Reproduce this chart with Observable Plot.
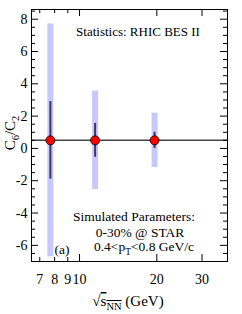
<!DOCTYPE html>
<html><head><meta charset="utf-8">
<script src="https://cdn.jsdelivr.net/npm/d3@7"></script>
<script src="https://cdn.jsdelivr.net/npm/@observablehq/plot@0.6"></script>
<style>html,body{margin:0;padding:0;background:#fff}</style>
</head><body><div id="chart"></div>
<script>
// ---- data ----
const energies = [7.7, 11.5, 19.6];          // sqrt(s_NN) in GeV
const ratio = [0.5, 0.5, 0.5];               // C6/C2
const errStat = [2.4, 1.05, 0.5];            // dark error bars
const errProj = [7.2, 3.05, 1.68];           // light (projected) error bars
const refLine = [0.5];
const xTickValues = [7, 8, 9, 10, 20, 30];
const xMajorTicks = [10, 20, 30];
const xMinorTicks = [7, 8, 9];
const yTickValues = [-6, -4, -2, 0, 2, 4, 6, 8];
const yMinorTicks = [-6.5, -5.5, -5, -4.5, -3.5, -3, -2.5, -1.5, -1, -0.5, 0.5, 1, 1.5, 2.5, 3, 3.5, 4.5, 5, 5.5, 6.5, 7, 7.5, 8.5];
const statText = "Statistics: RHIC BES II";
const paramLines = ["Simulated Parameters:", "0-30% @ STAR"];
const panelLabel = "(a)";

const rows = energies.map((e, i) => ({e, r: ratio[i], s: errStat[i], p: errProj[i]}));

const W = 242, H = 314, mL = 31, mR = 15, mT = 9, mB = 53;
const pw = W - mL - mR, ph = H - mT - mB;
const majLen = 7, minLen = 4;

const chart = Plot.plot({
  width: W, height: H,
  marginLeft: mL, marginRight: mR, marginTop: mT, marginBottom: mB,
  style: {fontFamily: "'Liberation Serif', 'DejaVu Serif', serif", fontSize: "14px", background: "white", color: "black"},
  x: {type: "log", domain: [6.5, 37.7]},
  y: {domain: [-7, 8.6]},
  marks: [
    Plot.ruleX(rows, {x: "e", y1: d => d.r - d.p, y2: d => d.r + d.p, stroke: "#c8c8ff", strokeWidth: 6}),
    Plot.ruleY(refLine, {y: d => d, stroke: "#444", strokeWidth: 1.5}),
    Plot.ruleX(rows, {x: "e", y1: d => d.r - d.s, y2: d => d.r + d.s, stroke: "#3a3a5e", strokeWidth: 2}),
    Plot.dot(rows, {x: "e", y: "r", r: 4.5, fill: "#ff0000", stroke: "black", strokeWidth: 0.8}),
    Plot.frame({stroke: "black", strokeWidth: 1}),
    // inward ticks: left / right
    Plot.tickY(yTickValues, {y: d => d, insetRight: pw - majLen, stroke: "black"}),
    Plot.tickY(yMinorTicks, {y: d => d, insetRight: pw - minLen, stroke: "black"}),
    Plot.tickY(yTickValues, {y: d => d, insetLeft: pw - majLen, stroke: "black"}),
    Plot.tickY(yMinorTicks, {y: d => d, insetLeft: pw - minLen, stroke: "black"}),
    // inward ticks: bottom / top
    Plot.tickX(xMajorTicks, {x: d => d, insetTop: ph - majLen, stroke: "black"}),
    Plot.tickX(xMinorTicks, {x: d => d, insetTop: ph - minLen, stroke: "black"}),
    Plot.tickX(xMajorTicks, {x: d => d, insetBottom: ph - majLen, stroke: "black"}),
    Plot.tickX(xMinorTicks, {x: d => d, insetBottom: ph - minLen, stroke: "black"}),
    Plot.axisX({ticks: xTickValues, tickSize: 0, tickPadding: 13, tickFormat: d => String(d), label: null, fontSize: 14}),
    Plot.axisY({ticks: yTickValues, tickSize: 0, tickPadding: 4, tickFormat: d => String(d), label: null, fontSize: 14})
  ]
});
document.getElementById("chart").appendChild(chart);

// ---- annotations with sub/superscripts ----
const svg = d3.select(chart);
const fam = "'Liberation Serif', 'DejaVu Serif', serif";
function addText(x, y, parts, size, anchor = "middle", rotate = 0) {
  const t = svg.append("text")
    .attr("transform", `translate(${x},${y})` + (rotate ? ` rotate(${rotate})` : ""))
    .attr("text-anchor", anchor)
    .attr("font-family", fam)
    .attr("font-size", size)
    .attr("fill", "black");
  let shift = 0;
  for (const p of parts) {
    const [str, kind, deco] = Array.isArray(p) ? p : [p, ""];
    const ts = t.append("tspan").text(str);
    if (kind === "sub") {
      ts.attr("font-size", size * 0.7).attr("dy", (4 - shift) + "px");
      shift = 4;
    } else if (shift) {
      ts.attr("dy", (-shift) + "px");
      shift = 0;
    }
    if (deco) ts.attr("text-decoration", deco);
  }
  return t;
}
addText(138, 36, [statText], 13);
addText(134, 221, [paramLines[0]], 13.5);
addText(140, 237, [paramLines[1]], 13.5);
addText(144, 251, ["0.4<p", ["T", "sub"], "<0.8 GeV/c"], 13.5);
addText(62, 254, [panelLabel], 13.5);
addText(15, 133, ["C", ["6", "sub"], "/C", ["2", "sub"]], 15, "middle", -90);
addText(128, 306, ["\u221A", ["s", "", "overline"], ["NN", "sub", "overline"], " (GeV)"], 15);
</script>
</body></html>
